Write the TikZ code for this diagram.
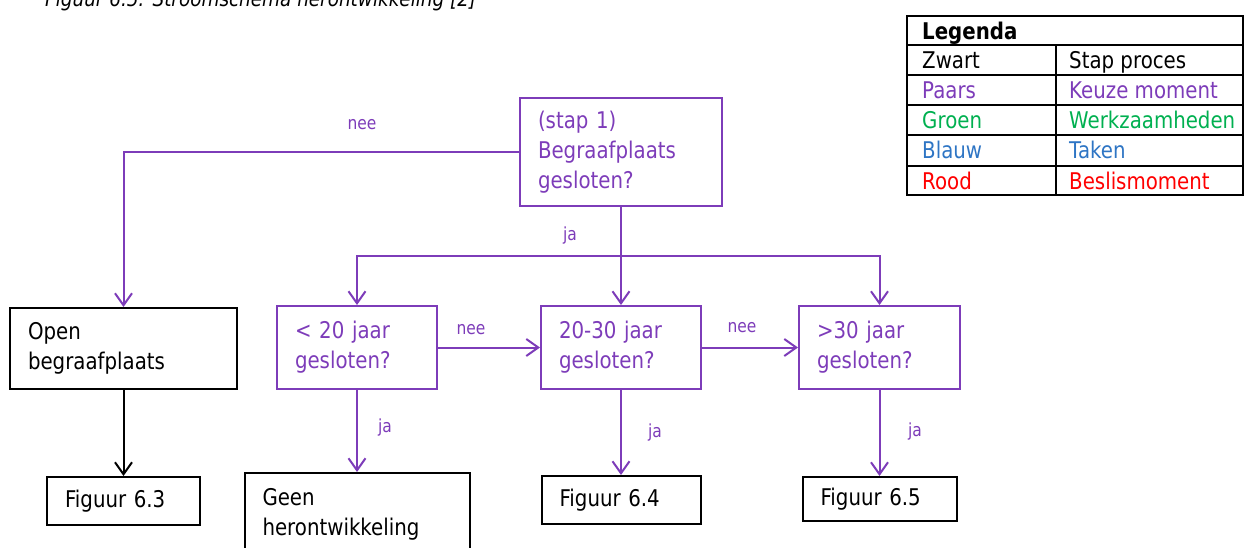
\documentclass[tikz,border=0pt]{standalone}
\usepackage{fontspec}
\setmainfont[FakeStretch=0.86]{DejaVu Sans}
\usetikzlibrary{arrows.meta}
\definecolor{paars}{RGB}{125,60,185}
\definecolor{groen}{RGB}{0,176,80}
\definecolor{blauw}{RGB}{46,117,196}
\definecolor{rood}{RGB}{255,0,0}

\begin{document}
\begin{tikzpicture}[x=1pt, y=-1pt,
    box/.style={rectangle, draw, line width=2pt, align=left, inner xsep=18pt, inner ysep=0pt, font=\fontsize{23}{30}\selectfont},
    keuze/.style={box, draw=paars, text=paars},
    lbl/.style={text=paars, font=\fontsize{18}{20}\selectfont},
    flow/.style={-{Straight Barb[length=12pt, width=17pt]}, line width=2pt, paars},
    legtxt/.style={anchor=base west, inner sep=0pt, font=\fontsize{23}{30}\selectfont},
  ]
    \useasboundingbox (0,0) rectangle (1245,547);

    % Caption (cut off at the top)
    \node[anchor=base west, inner sep=0pt, font=\fontsize{21.4}{22}\selectfont\itshape] (caption) at (45,6.5) {Figuur 6.5: Stroomschema herontwikkeling [2]};

    % Step 1
    \node[keuze, text width=166pt, minimum height=108pt] (stap1) at (621,152) {(stap 1)\\Begraafplaats\\gesloten?};

    % Row of choices
    \node[box, text width=191pt, minimum height=81pt] (open) at (123.5,348.5) {Open\\begraafplaats};
    \node[keuze, text width=124pt, minimum height=83pt] (lt20) at (357,347.5) {< 20 jaar\\gesloten?};
    \node[keuze, text width=124pt, minimum height=83pt] (mid) at (621,347.5) {20-30 jaar\\gesloten?};
    \node[keuze, text width=125pt, minimum height=83pt] (gt30) at (879.5,347.5) {>30 jaar\\gesloten?};

    % Results
    \node[box, text width=117pt, minimum height=48pt] (fig63) at (123.5,501) {Figuur 6.3};
    \node[box, text width=189pt, minimum height=83pt] (geen) at (357,514.5) {Geen\\herontwikkeling};
    \node[box, text width=123pt, minimum height=48pt] (fig64) at (621,500) {Figuur 6.4};
    \node[box, text width=118pt, minimum height=44pt] (fig65) at (879.5,499) {Figuur 6.5};

    % Connectors
    \coordinate (split) at (621,256);
    \draw[flow] (stap1.west) -| (open);
    \draw[flow] (stap1) -- (mid);
    \draw[flow] (split) -| (lt20);
    \draw[flow] (split) -| (gt30);
    \draw[flow] (lt20) -- (mid);
    \draw[flow] (mid) -- (gt30);
    \draw[flow, black] (open) -- (fig63);
    \draw[flow] (lt20) -- (geen);
    \draw[flow] (mid) -- (fig64);
    \draw[flow] (gt30) -- (fig65);

    % Labels
    \node[lbl] (nee1) at (362,125) {nee};
    \node[lbl] (ja1) at (570,236) {ja};
    \node[lbl] (nee2) at (471,330) {nee};
    \node[lbl] (nee3) at (742,328) {nee};
    \node[lbl] (ja2) at (385,428) {ja};
    \node[lbl] (ja3) at (655,433) {ja};
    \node[lbl] (ja4) at (915,432) {ja};

    % Legend
    \draw[line width=2pt] (907,16) rectangle (1243,195);
    \foreach \y in {45,75,105,135,166}
      \draw[line width=2pt] (907,\y) -- (1243,\y);
    \draw[line width=2pt] (1056,45) -- (1056,195);
    \node[legtxt, font=\fontsize{23}{30}\selectfont\bfseries] (legenda) at (922,39) {Legenda};
    \node[legtxt] (zwart) at (922,68) {Zwart};
    \node[legtxt] (stap) at (1069,68) {Stap proces};
    \node[legtxt, text=paars] (paars) at (922,98) {Paars};
    \node[legtxt, text=paars] (keuzem) at (1069,98) {Keuze moment};
    \node[legtxt, text=groen] (groen) at (922,128) {Groen};
    \node[legtxt, text=groen] (werk) at (1069,128) {Werkzaamheden};
    \node[legtxt, text=blauw] (blauw) at (922,158) {Blauw};
    \node[legtxt, text=blauw] (taken) at (1069,158) {Taken};
    \node[legtxt, text=rood] (rood) at (922,189) {Rood};
    \node[legtxt, text=rood] (beslis) at (1069,189) {Beslismoment};
\end{tikzpicture}
\end{document}
